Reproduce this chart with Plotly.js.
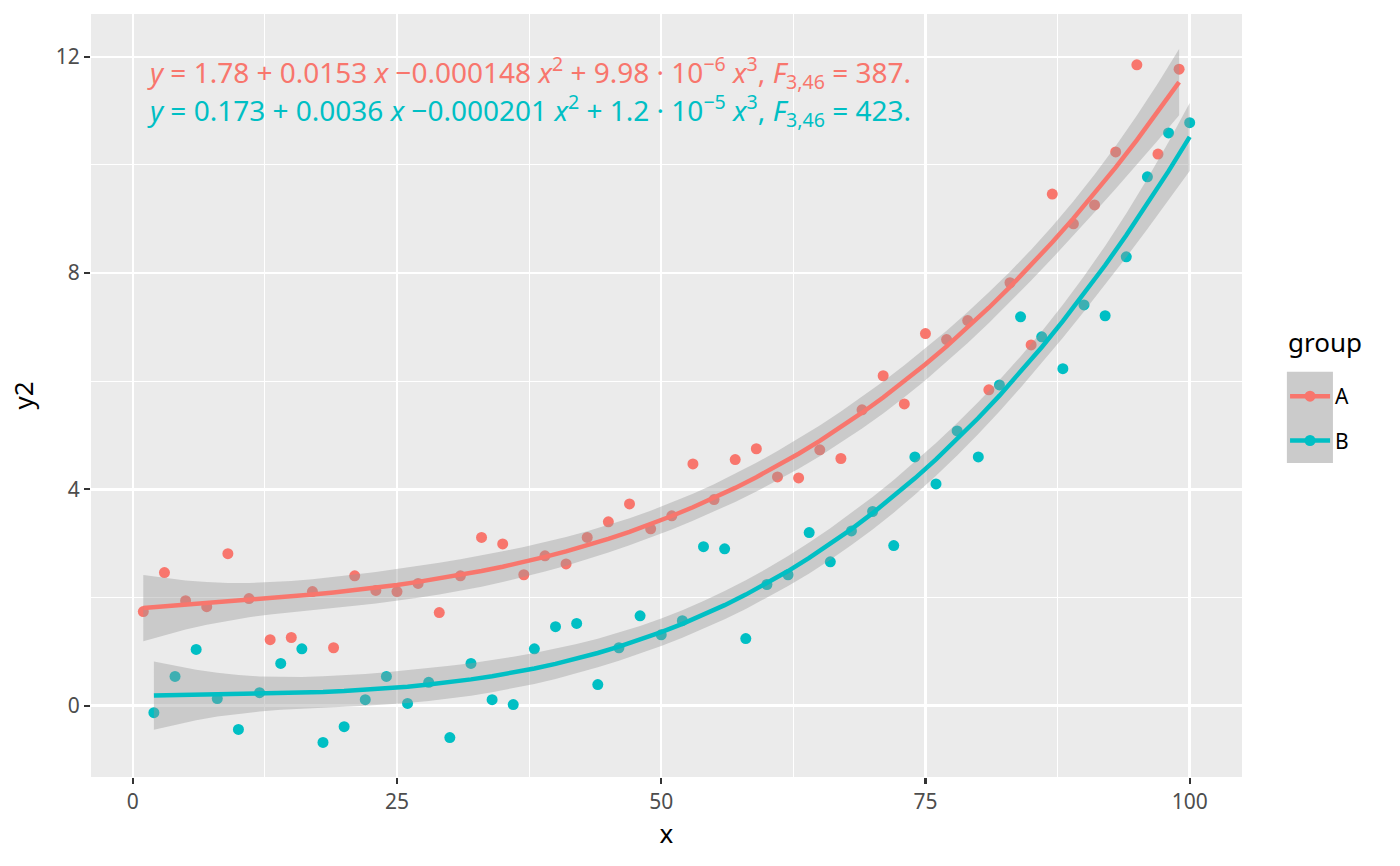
<!DOCTYPE html>
<html>
<head>
<meta charset="utf-8">
<script src="https://cdn.plot.ly/plotly-3.0.1.min.js"></script>
<style>
  html, body { margin: 0; padding: 0; background: #fff; }
  #chart { width: 1400px; height: 866px; }
</style>
</head>
<body>
<div id="chart"></div>
<script>
// group A sits on the odd x values, group B on the even ones
const xA = [1,3,5,7,9,11,13,15,17,19,21,23,25,27,29,31,33,35,37,39,41,43,45,47,49,
            51,53,55,57,59,61,63,65,67,69,71,73,75,77,79,81,83,85,87,89,91,93,95,97,99];
const yA = [1.74,2.46,1.94,1.83,2.81,1.98,1.22,1.26,2.11,1.07,2.40,2.13,2.11,2.26,1.72,
            2.40,3.11,2.99,2.42,2.77,2.62,3.11,3.40,3.73,3.27,3.51,4.47,3.81,4.55,4.75,
            4.23,4.21,4.73,4.57,5.47,6.10,5.58,6.88,6.77,7.12,5.84,7.82,6.67,9.46,8.91,
            9.26,10.24,11.85,10.20,11.77];

const xB = [2,4,6,8,10,12,14,16,18,20,22,24,26,28,30,32,34,36,38,40,42,44,46,48,50,
            52,54,56,58,60,62,64,66,68,70,72,74,76,78,80,82,84,86,88,90,92,94,96,98,100];
const yB = [-0.13,0.54,1.04,0.13,-0.44,0.24,0.78,1.05,-0.68,-0.39,0.11,0.54,0.04,0.43,-0.59,
            0.78,0.11,0.02,1.05,1.46,1.52,0.39,1.07,1.66,1.31,1.57,2.94,2.90,1.24,2.24,
            2.42,3.20,2.66,3.23,3.59,2.96,4.60,4.10,5.08,4.60,5.93,7.19,6.82,6.23,7.41,
            7.21,8.30,9.78,10.59,10.78];

const groups = ['A', 'B'];
const colA = '#F8766D';
const colB = '#00BFC4';

const labelA = '<i>y</i> = 1.78 + 0.0153 <i>x</i> \u22120.000148 <i>x</i><sup>2</sup> + 9.98 \u00b7 10<sup>\u22126</sup> <i>x</i><sup>3</sup>, <i>F</i><sub>3,46</sub> = 387.';
const labelB = '<i>y</i> = 0.173 + 0.0036 <i>x</i> \u22120.000201 <i>x</i><sup>2</sup> + 1.2 \u00b7 10<sup>\u22125</sup> <i>x</i><sup>3</sup>, <i>F</i><sub>3,46</sub> = 423.';

// cubic least squares fit, like stat_smooth(method = lm, formula = y ~ poly(x, 3))
function solve(M, v) {
    const n = v.length;
    const A = M.map((row, i) => row.concat([v[i]]));
    for (let c = 0; c < n; c++) {
        let p = c;
        for (let r = c + 1; r < n; r++) if (Math.abs(A[r][c]) > Math.abs(A[p][c])) p = r;
        [A[c], A[p]] = [A[p], A[c]];
        for (let r = 0; r < n; r++) {
            if (r === c) continue;
            const f = A[r][c] / A[c][c];
            for (let k = c; k <= n; k++) A[r][k] -= f * A[c][k];
        }
    }
    return A.map((row, i) => row[n] / row[i]);
}

function cubicFit(xs, ys) {
    const row = x => { const t = x / 100; return [1, t, t * t, t * t * t]; };
    const X = xs.map(row);
    const XtX = [0,1,2,3].map(i => [0,1,2,3].map(j => X.reduce((s, r) => s + r[i] * r[j], 0)));
    const Xty = [0,1,2,3].map(i => X.reduce((s, r, k) => s + r[i] * ys[k], 0));
    const beta = solve(XtX, Xty);
    const fit = X.map(r => r.reduce((s, v, i) => s + v * beta[i], 0));
    const sse = ys.reduce((s, y, k) => s + (y - fit[k]) ** 2, 0);
    const s2 = sse / (xs.length - 4);
    const inv = [0,1,2,3].map(i => solve(XtX, [0,1,2,3].map(j => (i === j ? 1 : 0))));
    const tq = 2.0129; // t quantile, 0.975, df = 46
    const lo = [], hi = [];
    X.forEach((r, k) => {
        let q = 0;
        for (let i = 0; i < 4; i++) for (let j = 0; j < 4; j++) q += r[i] * inv[j][i] * r[j];
        const se = Math.sqrt(s2 * q);
        lo.push(fit[k] - tq * se);
        hi.push(fit[k] + tq * se);
    });
    return { fit, lo, hi };
}

const fitA = cubicFit(xA, yA);
const fitB = cubicFit(xB, yB);

function pointTrace(x, y, color) {
    return { x: x, y: y, type: 'scatter', mode: 'markers',
             marker: { color: color, size: 11 }, showlegend: false, hoverinfo: 'x+y' };
}
function bandTrace(x, f) {
    return { x: x.concat(x.slice().reverse()), y: f.hi.concat(f.lo.slice().reverse()),
             type: 'scatter', mode: 'lines', fill: 'toself',
             fillcolor: 'rgba(153,153,153,0.4)', line: { width: 0 },
             showlegend: false, hoverinfo: 'skip' };
}
function lineTrace(x, f, color, name) {
    return { x: x, y: f.fit, type: 'scatter', mode: 'lines', name: name,
             line: { color: color, width: 4.5 }, showlegend: false };
}
// legend entries only
function keyTrace(color, name) {
    return { x: [null], y: [null], type: 'scatter', mode: 'lines+markers', name: name,
             legendgroup: name,
             line: { color: color, width: 4.5 }, marker: { color: color, size: 11 } };
}

const traces = [
    pointTrace(xA, yA, colA),
    pointTrace(xB, yB, colB),
    bandTrace(xA, fitA),
    bandTrace(xB, fitB),
    lineTrace(xA, fitA, colA, groups[0]),
    lineTrace(xB, fitB, colB, groups[1]),
    keyTrace(colA, groups[0]),
    keyTrace(colB, groups[1])
];

const fam = 'Noto Sans, Open Sans, sans-serif';
const axisCommon = {
    showgrid: true, gridcolor: '#FFFFFF', gridwidth: 2.4,
    zeroline: false, showline: false,
    ticks: 'outside', ticklen: 6, tickwidth: 2.2, tickcolor: '#333333',
    tickfont: { family: fam, size: 21, color: '#4D4D4D' }
};
const titleFont = { family: fam, size: 26, color: '#000000' };

const layout = {
    width: 1400, height: 866,
    margin: { l: 91, r: 158, t: 14, b: 89 },
    paper_bgcolor: '#FFFFFF',
    plot_bgcolor: '#EBEBEB',
    font: { family: fam, color: '#000000' },
    xaxis: Object.assign({}, axisCommon, {
        range: [-3.95, 104.95], tickvals: [0, 25, 50, 75, 100],
        minor: { tickvals: [12.5, 37.5, 62.5, 87.5], showgrid: true, gridcolor: '#FFFFFF', gridwidth: 1.1, ticks: '' },
        title: { text: 'x', standoff: 10, font: titleFont }
    }),
    yaxis: Object.assign({}, axisCommon, {
        range: [-1.32, 12.79], tickvals: [0, 4, 8, 12],
        minor: { tickvals: [2, 6, 10], showgrid: true, gridcolor: '#FFFFFF', gridwidth: 1.1, ticks: '' },
        title: { text: 'y2', standoff: 14, font: titleFont }
    }),
    legend: {
        x: 1.0374, y: 0.5255, xanchor: 'left', yanchor: 'top',
        bgcolor: 'rgba(0,0,0,0)',
        font: { family: fam, size: 21, color: '#000000' },
        tracegroupgap: 14, itemwidth: 40
    },
    shapes: [{
        type: 'rect', xref: 'paper', yref: 'paper',
        x0: 1.039, x1: 1.079, y0: 0.4115, y1: 0.531,
        fillcolor: '#CBCBCB', line: { width: 0 }, layer: 'below'
    }],
    annotations: [
        { text: labelA, xref: 'paper', yref: 'paper', x: 0.047, y: 0.9227,
          xanchor: 'left', yanchor: 'middle', showarrow: false,
          font: { family: fam, size: 28, color: colA } },
        { text: labelB, xref: 'paper', yref: 'paper', x: 0.047, y: 0.874,
          xanchor: 'left', yanchor: 'middle', showarrow: false,
          font: { family: fam, size: 28, color: colB } },
        // legend title
        { text: 'group', xref: 'paper', yref: 'paper', x: 1.038, y: 0.5696,
          xanchor: 'left', yanchor: 'middle', showarrow: false,
          font: { family: fam, size: 26, color: '#000000' } }
    ]
};

Plotly.newPlot('chart', traces, layout, { displayModeBar: false, staticPlot: true });
</script>
</body>
</html>
